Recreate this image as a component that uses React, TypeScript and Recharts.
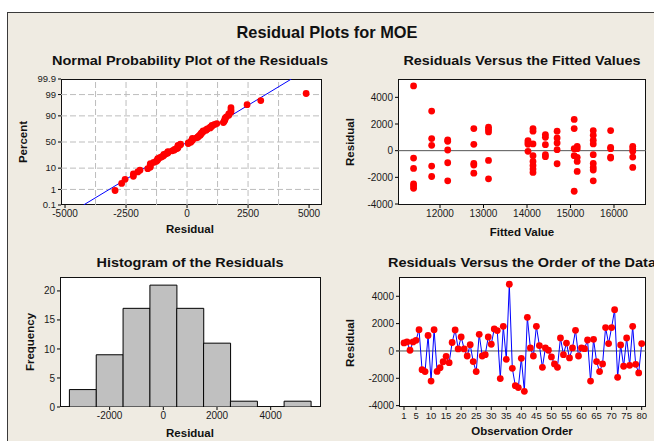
import React from 'react';
import {
  ScatterChart, Scatter, XAxis, YAxis, ReferenceLine, LineChart, Line, BarChart, Bar,
} from 'recharts';

// ---------- data ----------
const residuals = [
  585, 660, 50, 660, 780, 1560, -1370, -1510, 1130, -2200,
  1560, -1500, -1220, -790, -390, -860, 620, 1540, 150, 1020,
  150, -370, 460, -780, -1510, 1220, -370, -270, 1020, 490,
  1610, 1490, -2020, 1800, -610, 4880, -1270, -2540, -2680, -540,
  -2950, 2460, 220, -370, 1800, 390, -1200, 220, 50, -440,
  -950, -1200, 950, -270, 580, -510, 220, 1510, -370, 220,
  170, 800, -2200, 850, -780, -1510, -950, 1710, 540, 1710,
  3020, -1930, 440, -1120, 950, -1050, 1800, -980, -1610, 540,
];

const fittedGroups = [
  { fitted: 11392, res: [4855, -553, -1333, -2490, -2640, -2818] },
  { fitted: 11808, res: [2970, 905, 400, -1157, -1937] },
  { fitted: 12177, res: [805, 705, 50, -905, -2264] },
  { fitted: 12777, res: [1660, 478, -956, -1082, -1686] },
  { fitted: 13115, res: [1760, 1585, 1409, -730, -2113] },
  { fitted: 14023, res: [760, 620, 480, -50] },
  { fitted: 14138, res: [1660, 1459, 503, -377, -805, -1107, -1384, -1635] },
  { fitted: 14423, res: [1207, 1006, 453, -302, -453] },
  { fitted: 14692, res: [1459, 956, 578, 75, -981] },
  { fitted: 15085, res: [2340, 1660, 150, -377, -3044] },
  { fitted: 15154, res: [327, 150, -503, -805, -1560] },
  { fitted: 15523, res: [1509, 1157, 780, 503, -302, -956, -1258, -1459, -2264] },
  { fitted: 15923, res: [1509, 252, 150, -478, -553] },
  { fitted: 16431, res: [327, 150, -50, -478, -1258] },
];

const histBinCenters = [-3000, -2000, -1000, 0, 1000, 2000, 3000, 4000, 5000];
const histCounts = [3, 9, 17, 21, 17, 11, 1, 0, 1];
const histTicks = [-2000, 0, 2000, 4000];
const freqTicks = [0, 5, 10, 15, 20];

const probTicks = [0.1, 1, 10, 50, 90, 99, 99.9];
const probLabels = ['0.1', '1', '10', '50', '90', '99', '99.9'];
const normalXTicks = [-5000, -2500, 0, 2500, 5000];
const normalGridX = [-3750, -2500, -1250, 0, 1250, 2500, 3750];
const normalGridP = [1, 10, 50, 90, 99];

const residualTicks = [-4000, -2000, 0, 2000, 4000];
const fittedTicks = [12000, 13000, 14000, 15000, 16000];
const orderTicks = [1, 5, 10, 15, 20, 25, 30, 35, 40, 45, 50, 55, 60, 65, 70, 75, 80];

// ---------- helpers ----------
function invNorm(p: number): number {
  const a = [-3.969683028665376e1, 2.209460984245205e2, -2.759285104469687e2, 1.38357751867269e2, -3.066479806614716e1, 2.506628277459239];
  const b = [-5.447609879822406e1, 1.615858368580409e2, -1.556989798598866e2, 6.680131188771972e1, -1.328068155288572e1];
  const c = [-7.784894002430293e-3, -3.223964580411365e-1, -2.400758277161838, -2.549732539343734, 4.374664141464968, 2.938163982698783];
  const d = [7.784695709041462e-3, 3.224671290700398e-1, 2.445134137142996, 3.754408661907416];
  const plow = 0.02425;
  const phigh = 1 - plow;
  if (p < plow) {
    const q = Math.sqrt(-2 * Math.log(p));
    return (((((c[0] * q + c[1]) * q + c[2]) * q + c[3]) * q + c[4]) * q + c[5]) / ((((d[0] * q + d[1]) * q + d[2]) * q + d[3]) * q + 1);
  }
  if (p > phigh) {
    const q = Math.sqrt(-2 * Math.log(1 - p));
    return -(((((c[0] * q + c[1]) * q + c[2]) * q + c[3]) * q + c[4]) * q + c[5]) / ((((d[0] * q + d[1]) * q + d[2]) * q + d[3]) * q + 1);
  }
  const q = p - 0.5;
  const r = q * q;
  return ((((((a[0] * r + a[1]) * r + a[2]) * r + a[3]) * r + a[4]) * r + a[5]) * q) / (((((b[0] * r + b[1]) * r + b[2]) * r + b[3]) * r + b[4]) * r + 1);
}

const n = residuals.length;
const sorted = [...residuals].sort((x, y) => x - y);
const normalData = sorted.map((r, i) => ({ x: r, y: invNorm((i + 1 - 0.3) / (n + 0.4)) }));
const mean = residuals.reduce((s, v) => s + v, 0) / n;
const sd = Math.sqrt(residuals.reduce((s, v) => s + (v - mean) ** 2, 0) / (n - 1));
const zMax = invNorm(0.999);
const probZ = probTicks.map((p) => invNorm(p / 100));

const fittedData = fittedGroups.flatMap((g) => g.res.map((r) => ({ x: g.fitted, y: r })));
const orderData = residuals.map((r, i) => ({ obs: i + 1, r }));
const histData = histBinCenters.map((c, i) => ({ center: c, count: histCounts[i] }));

// ---------- style ----------
const FONT = "'Liberation Sans', Arial, Helvetica, sans-serif";
const tickStyle = { fontSize: 10, fill: '#1a1a1a', fontFamily: FONT };
const tickLine = { stroke: '#000' };

const RedDot = (props: any) => {
  const { cx, cy } = props;
  if (cx == null || cy == null) return <g />;
  return <circle cx={cx} cy={cy} r={3.4} fill="#FF0000" stroke="none" />;
};

type Box = { left: number; top: number; width: number; height: number; yw: number; xh: number; mt: number; mr: number };

const B1: Box = { left: 0, top: 70, width: 330, height: 170, yw: 61, xh: 35, mt: 9, mr: 8 };
const B2: Box = { left: 330, top: 70, width: 324, height: 170, yw: 68, xh: 35, mt: 9, mr: 8 };
const B3: Box = { left: 0, top: 268, width: 330, height: 173, yw: 60, xh: 34, mt: 9, mr: 9 };
const B4: Box = { left: 330, top: 268, width: 324, height: 173, yw: 69, xh: 34, mt: 9, mr: 8 };

function PlotBg({ b }: { b: Box }) {
  return (
    <div
      style={{
        position: 'absolute',
        left: b.left + b.yw,
        top: b.top + b.mt,
        width: b.width - b.yw - b.mr,
        height: b.height - b.mt - b.xh,
        background: '#FFFFFF',
        border: '1px solid #111',
        boxSizing: 'border-box',
      }}
    />
  );
}

function Holder({ b, children }: { b: Box; children: React.ReactNode }) {
  return <div style={{ position: 'absolute', left: b.left, top: b.top }}>{children}</div>;
}

const margin = (b: Box) => ({ top: b.mt, right: b.mr, bottom: 0, left: 0 });

export default function App() {
  return (
    <div style={{ position: 'absolute', left: 0, top: 0, width: 654, height: 441, overflow: 'hidden', background: '#FFFFFF' }}>
      <div style={{ position: 'absolute', left: 7, top: 12, width: 700, height: 480, background: '#EFEBE2', border: '1px solid #3a3a3a' }} />

      {[B1, B2, B3, B4].map((b, i) => <PlotBg key={i} b={b} />)}

      {/* Normal probability plot */}
      <Holder b={B1}>
        <ScatterChart width={B1.width} height={B1.height} margin={margin(B1)}>
          <XAxis type="number" dataKey="x" domain={[-5165, 5530]} ticks={normalXTicks} interval={0} allowDataOverflow
            height={B1.xh} tick={tickStyle} tickLine={tickLine} tickSize={3} axisLine={false} />
          <YAxis type="number" dataKey="y" domain={[-zMax, zMax]} ticks={probZ} interval={0} allowDataOverflow
            width={B1.yw} tick={{ ...tickStyle, fontSize: 9.5 }} tickLine={tickLine} tickSize={3} axisLine={false}
            tickFormatter={(v: number) => { const k = probZ.findIndex((z) => Math.abs(z - v) < 1e-6); return k >= 0 ? probLabels[k] : ''; }} />
          {normalGridX.map((g) => (
            <ReferenceLine key={'gx' + g} x={g} stroke="#BDBDBD" strokeDasharray="6 3" />
          ))}
          {normalGridP.map((p) => (
            <ReferenceLine key={'gy' + p} y={invNorm(p / 100)} stroke="#BDBDBD" strokeDasharray="6 3" />
          ))}
          <ReferenceLine segment={[{ x: mean - sd * zMax, y: -zMax }, { x: mean + sd * zMax, y: zMax }]} stroke="#0000FF" strokeWidth={1} ifOverflow="hidden" />
          <Scatter data={normalData} shape={RedDot} isAnimationActive={false} />
        </ScatterChart>
      </Holder>

      {/* Residuals vs fitted */}
      <Holder b={B2}>
        <ScatterChart width={B2.width} height={B2.height} margin={margin(B2)}>
          <XAxis type="number" dataKey="x" domain={[11034, 16736]} ticks={fittedTicks} interval={0} allowDataOverflow
            height={B2.xh} tick={tickStyle} tickLine={tickLine} tickSize={3} axisLine={false} />
          <YAxis type="number" dataKey="y" domain={[-4075, 5375]} ticks={residualTicks} interval={0} allowDataOverflow
            width={B2.yw} tick={tickStyle} tickLine={tickLine} tickSize={3} axisLine={false} />
          <ReferenceLine y={0} stroke="#555" strokeWidth={1} />
          <Scatter data={fittedData} shape={RedDot} isAnimationActive={false} />
        </ScatterChart>
      </Holder>

      {/* Histogram */}
      <Holder b={B3}>
        <BarChart width={B3.width} height={B3.height} margin={margin(B3)} data={histData} barCategoryGap={0} barGap={0}>
          <XAxis type="number" dataKey="center" domain={[-3850, 5875]} ticks={histTicks} interval={0} allowDataOverflow
            height={B3.xh} tick={tickStyle} tickLine={tickLine} tickSize={3} axisLine={false} />
          <YAxis type="number" domain={[0, 22.4]} ticks={freqTicks} interval={0} allowDataOverflow
            width={B3.yw} tick={tickStyle} tickLine={tickLine} tickSize={3} axisLine={false} />
          <Bar dataKey="count" fill="#C0C0C0" stroke="#000" strokeWidth={1} isAnimationActive={false} />
        </BarChart>
      </Holder>

      {/* Residuals vs order */}
      <Holder b={B4}>
        <LineChart width={B4.width} height={B4.height} margin={margin(B4)} data={orderData}>
          <XAxis type="number" dataKey="obs" domain={[-0.66, 81.43]} ticks={orderTicks} interval={0} allowDataOverflow
            height={B4.xh} tick={{ ...tickStyle, fontSize: 9.5 }} tickLine={tickLine} tickSize={3} axisLine={false} />
          <YAxis type="number" domain={[-4100, 5410]} ticks={residualTicks} interval={0} allowDataOverflow
            width={B4.yw} tick={tickStyle} tickLine={tickLine} tickSize={3} axisLine={false} />
          <ReferenceLine y={0} stroke="#555" strokeWidth={1} />
          <Line dataKey="r" stroke="#0000FF" strokeWidth={1} isAnimationActive={false}
            dot={(p: any) => <RedDot key={'o' + p.index} {...p} />} activeDot={false} />
        </LineChart>
      </Holder>

      {/* Titles and axis labels */}
      <svg width={654} height={441} style={{ position: 'absolute', left: 0, top: 0, pointerEvents: 'none' }} fontFamily={FONT} fill="#111">
        <text x={327} y={38} textAnchor="middle" fontSize={17} fontWeight="bold" textLength={181} lengthAdjust="spacingAndGlyphs">Residual Plots for MOE</text>

        <text x={190} y={65} textAnchor="middle" fontSize={13} fontWeight="bold" textLength={276} lengthAdjust="spacingAndGlyphs">Normal Probability Plot of the Residuals</text>
        <text x={522} y={65} textAnchor="middle" fontSize={13} fontWeight="bold" textLength={237} lengthAdjust="spacingAndGlyphs">Residuals Versus the Fitted Values</text>
        <text x={190} y={267} textAnchor="middle" fontSize={13} fontWeight="bold" textLength={187} lengthAdjust="spacingAndGlyphs">Histogram of the Residuals</text>
        <text x={522} y={267} textAnchor="middle" fontSize={13} fontWeight="bold" textLength={268} lengthAdjust="spacingAndGlyphs">Residuals Versus the Order of the Data</text>

        <text x={190} y={233} textAnchor="middle" fontSize={11.5} fontWeight="bold">Residual</text>
        <text x={522} y={236} textAnchor="middle" fontSize={11.5} fontWeight="bold">Fitted Value</text>
        <text x={190} y={437} textAnchor="middle" fontSize={11.5} fontWeight="bold">Residual</text>
        <text x={522} y={435} textAnchor="middle" fontSize={11.5} fontWeight="bold">Observation Order</text>

        <text x={23} y={142} textAnchor="middle" dominantBaseline="central" fontSize={11.5} fontWeight="bold" transform="rotate(-90 23 142)">Percent</text>
        <text x={350} y={142} textAnchor="middle" dominantBaseline="central" fontSize={11.5} fontWeight="bold" transform="rotate(-90 350 142)">Residual</text>
        <text x={30} y={342} textAnchor="middle" dominantBaseline="central" fontSize={11.5} fontWeight="bold" transform="rotate(-90 30 342)">Frequency</text>
        <text x={350} y={343} textAnchor="middle" dominantBaseline="central" fontSize={11.5} fontWeight="bold" transform="rotate(-90 350 343)">Residual</text>
      </svg>
    </div>
  );
}
